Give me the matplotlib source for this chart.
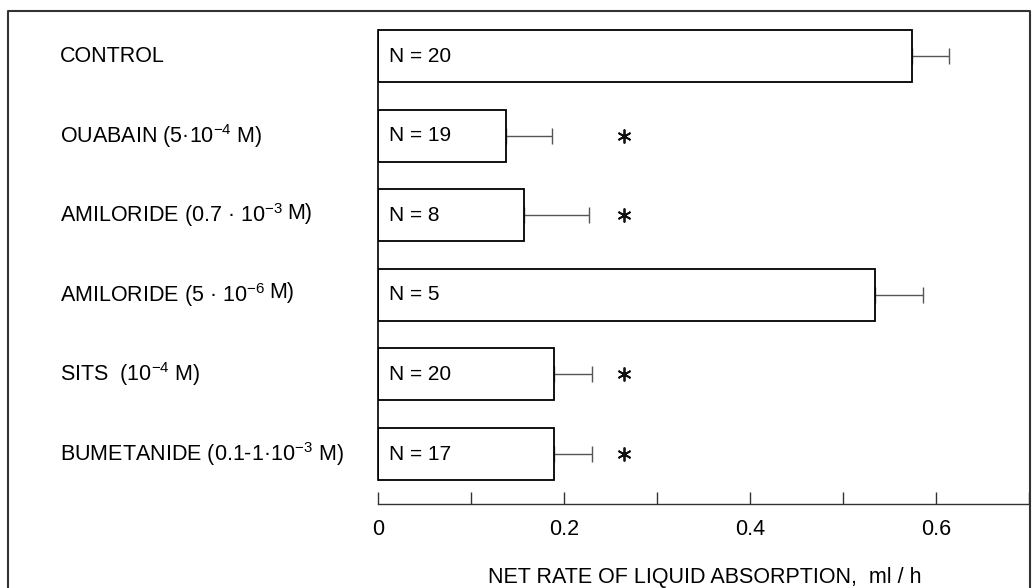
import matplotlib
matplotlib.use('Agg')
import matplotlib.pyplot as plt
import matplotlib.transforms as mtransforms
from matplotlib.lines import Line2D

plt.rcParams['font.family'] = ['Liberation Sans', 'DejaVu Sans']
plt.rcParams['mathtext.fontset'] = 'custom'
plt.rcParams['mathtext.rm'] = 'Liberation Sans'
plt.rcParams['mathtext.default'] = 'regular'

labels = ['CONTROL',
          'OUABAIN (5·10$^{-4}$ M)',
          'AMILORIDE (0.7 · 10$^{-3}$',
          'AMILORIDE (5 · 10$^{-6}$',
          'SITS  (10$^{-4}$ M)',
          'BUMETANIDE (0.1-1·10$^{-3}$ M)']
raised = ['', '', 'M)', 'M)', '', '']
means = [0.574, 0.138, 0.157, 0.534, 0.189, 0.189]
sem = [0.040, 0.049, 0.070, 0.052, 0.041, 0.041]
n_values = [20, 19, 8, 5, 20, 17]
significant = [False, True, True, False, True, True]
star_pos = 0.265

fig = plt.figure(figsize=(10.32, 5.88), dpi=100)
ax = fig.add_axes([378 / 1032, 84 / 588, 651 / 1032, 484 / 588])

y = list(range(len(labels)))
h = 0.655
ax.barh(y, means, height=h, color='white', edgecolor='black', linewidth=1.3, zorder=2)
ax.errorbar(means, y, xerr=[[0] * len(sem), sem], fmt='none', ecolor='#555555',
            elinewidth=1.0, capsize=6, capthick=1.0, zorder=1)

for i in y:
    ax.text(0.012, i, f'N = {n_values[i]}', fontsize=15, va='center', ha='left')
    if significant[i]:
        ax.plot(star_pos, i, marker=(6, 2, 0), markersize=10, color='#111111', mew=1.3)

trans = mtransforms.blended_transform_factory(fig.transFigure, ax.transData)
for i, lab in enumerate(labels):
    t = ax.text(60 / 1032, i, lab, fontsize=15.5, va='center', ha='left', transform=trans)
    if raised[i]:
        ax.annotate(raised[i], xy=(1, 0), xycoords=t, xytext=(3, 4),
                    textcoords='offset points', fontsize=15.5, va='bottom', ha='left')

ax.set_xlim(0, 0.7)
ax.set_ylim(len(labels) - 1 + (504 - 454) / 79.6, -36 / 79.6)

ax.spines['top'].set_visible(False)
ax.spines['right'].set_visible(False)
ax.spines['left'].set_bounds(-h / 2, len(labels) - 1 + h / 2)
ax.spines['bottom'].set_bounds(0, 0.7)
ax.spines['left'].set_linewidth(1.2)
ax.spines['bottom'].set_linewidth(1.0)
ax.spines['bottom'].set_color('#333333')

ax.set_yticks([])
ax.set_xticks([0, 0.1, 0.2, 0.3, 0.4, 0.5, 0.6, 0.7])
ax.set_xticklabels(['0', '', '0.2', '', '0.4', '', '0.6', ''])
ax.tick_params(axis='x', direction='in', length=9, width=1.0, color='#333333',
               labelsize=15.5, pad=11)

fig.text(705 / 1032, 1 - 578 / 588, 'NET RATE OF LIQUID ABSORPTION,  ml / h',
         fontsize=15.5, ha='center', va='center')

# outer frame (bottom edge is cut off in the original scan)
fx = [8 / 1032, 8 / 1032, 1030 / 1032, 1030 / 1032]
fy = [0, 1 - 11 / 588, 1 - 11 / 588, 0]
fig.lines.append(Line2D(fx, fy, color='#333333', linewidth=1.5, transform=fig.transFigure))

fig.savefig('out.png', dpi=100)
